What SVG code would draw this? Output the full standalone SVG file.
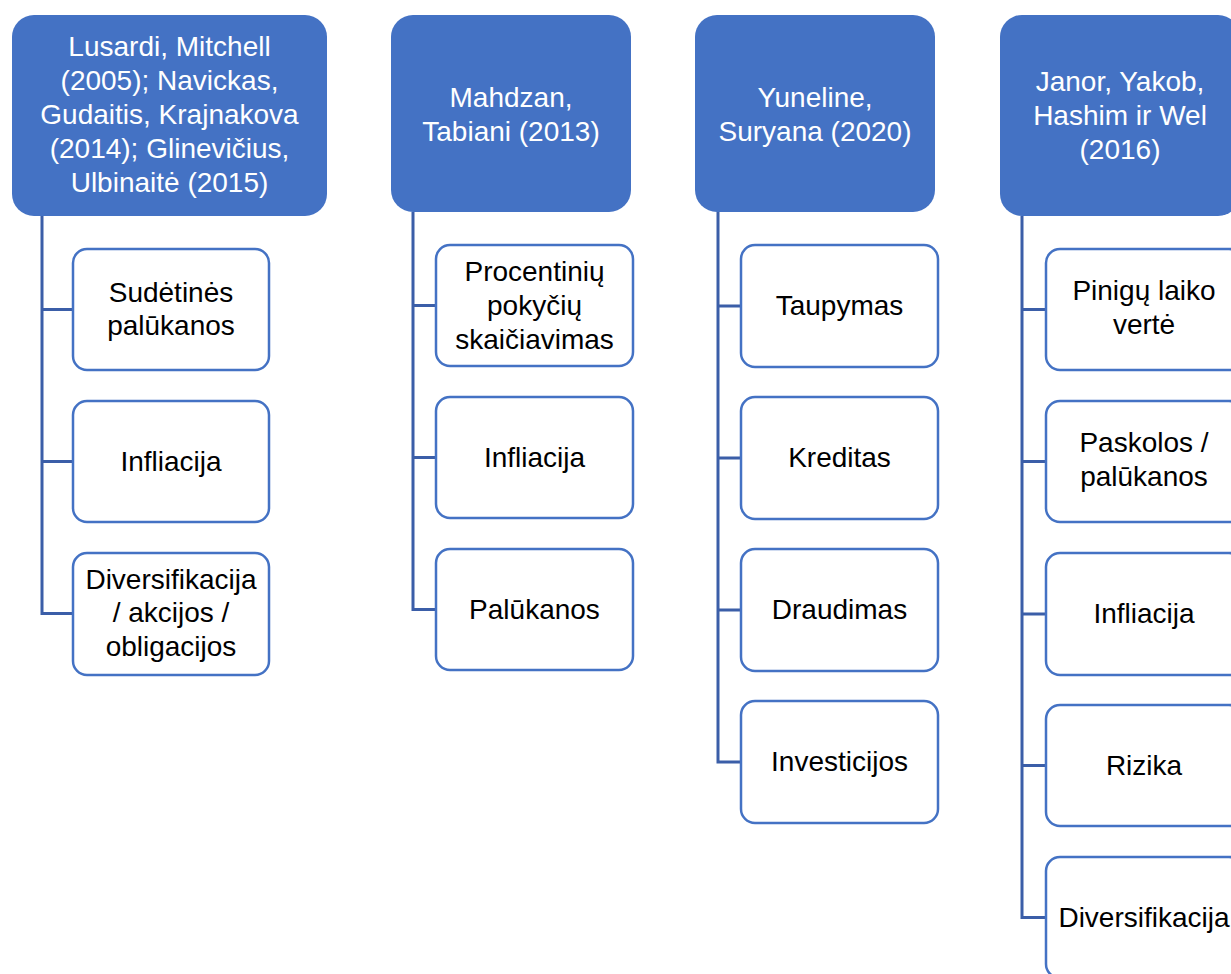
<svg xmlns="http://www.w3.org/2000/svg" width="1231" height="974" viewBox="0 0 1231 974">
<style>
.hdr{fill:#4472C4;}
.box{fill:#FFFFFF;stroke:#4472C4;stroke-width:2.5;}
.ht{font-family:"Liberation Sans",Arial,sans-serif;font-size:28px;fill:#FFFFFF;text-anchor:middle;}
.ct{font-family:"Liberation Sans",Arial,sans-serif;font-size:28px;fill:#000000;text-anchor:middle;}
.con{fill:none;stroke:#3B5EA8;stroke-width:3;}
</style>
<rect width="1231" height="974" fill="#FFFFFF"/>
<g id="connectors">
<path class="con" d="M42,216 V613.5 H73 M42,309.5 H73 M42,461.5 H73"/>
<path class="con" d="M413,212 V609.5 H436 M413,305.5 H436 M413,457.5 H436"/>
<path class="con" d="M718,212 V762 H741 M718,306 H741 M718,458 H741 M718,610 H741"/>
<path class="con" d="M1022,216 V917.5 H1046 M1022,309.5 H1046 M1022,461.5 H1046 M1022,614 H1046 M1022,765.5 H1046"/>
</g>
<g id="h1">
<rect class="hdr" x="12" y="15" width="315" height="201" rx="22"/>
<text class="ht" x="169.5" y="56">Lusardi, Mitchell</text>
<text class="ht" x="169.5" y="90">(2005); Navickas,</text>
<text class="ht" x="169.5" y="124">Gudaitis, Krajnakova</text>
<text class="ht" x="169.5" y="158">(2014); Glinevičius,</text>
<text class="ht" x="169.5" y="192">Ulbinaitė (2015)</text>
</g>
<g id="c1a"><rect class="box" x="73" y="249" width="196" height="121" rx="14"/>
<text class="ct" x="171" y="302">Sudėtinės</text><text class="ct" x="171" y="335">palūkanos</text></g>
<g id="c1b"><rect class="box" x="73" y="401" width="196" height="121" rx="14"/>
<text class="ct" x="171" y="471">Infliacija</text></g>
<g id="c1c"><rect class="box" x="73" y="553" width="196" height="122" rx="14"/>
<text class="ct" x="171" y="589">Diversifikacija</text><text class="ct" x="171" y="622">/ akcijos /</text><text class="ct" x="171" y="656">obligacijos</text></g>

<g id="h2">
<rect class="hdr" x="391" y="15" width="240" height="197" rx="22"/>
<text class="ht" x="511" y="107">Mahdzan,</text>
<text class="ht" x="511" y="141">Tabiani (2013)</text>
</g>
<g id="c2a"><rect class="box" x="436" y="245" width="197" height="121" rx="14"/>
<text class="ct" x="534.5" y="281">Procentinių</text><text class="ct" x="534.5" y="315">pokyčių</text><text class="ct" x="534.5" y="349">skaičiavimas</text></g>
<g id="c2b"><rect class="box" x="436" y="397" width="197" height="121" rx="14"/>
<text class="ct" x="534.5" y="467">Infliacija</text></g>
<g id="c2c"><rect class="box" x="436" y="549" width="197" height="121" rx="14"/>
<text class="ct" x="534.5" y="619">Palūkanos</text></g>

<g id="h3">
<rect class="hdr" x="695" y="15" width="240" height="197" rx="22"/>
<text class="ht" x="815" y="107">Yuneline,</text>
<text class="ht" x="815" y="141">Suryana (2020)</text>
</g>
<g id="c3a"><rect class="box" x="741" y="245" width="197" height="122" rx="14"/>
<text class="ct" x="839.5" y="315">Taupymas</text></g>
<g id="c3b"><rect class="box" x="741" y="397" width="197" height="122" rx="14"/>
<text class="ct" x="839.5" y="467">Kreditas</text></g>
<g id="c3c"><rect class="box" x="741" y="549" width="197" height="122" rx="14"/>
<text class="ct" x="839.5" y="619">Draudimas</text></g>
<g id="c3d"><rect class="box" x="741" y="701" width="197" height="122" rx="14"/>
<text class="ct" x="839.5" y="771">Investicijos</text></g>

<g id="h4">
<rect class="hdr" x="1000" y="15" width="240" height="201" rx="22"/>
<text class="ht" x="1120" y="91">Janor, Yakob,</text>
<text class="ht" x="1120" y="125">Hashim ir Wel</text>
<text class="ht" x="1120" y="159">(2016)</text>
</g>
<g id="c4a"><rect class="box" x="1046" y="249" width="197" height="121" rx="14"/>
<text class="ct" x="1144" y="300">Pinigų laiko</text><text class="ct" x="1144" y="334">vertė</text></g>
<g id="c4b"><rect class="box" x="1046" y="401" width="197" height="121" rx="14"/>
<text class="ct" x="1144" y="452">Paskolos /</text><text class="ct" x="1144" y="486">palūkanos</text></g>
<g id="c4c"><rect class="box" x="1046" y="553" width="197" height="122" rx="14"/>
<text class="ct" x="1144" y="623">Infliacija</text></g>
<g id="c4d"><rect class="box" x="1046" y="705" width="197" height="121" rx="14"/>
<text class="ct" x="1144" y="775">Rizika</text></g>
<g id="c4e"><rect class="box" x="1046" y="857" width="197" height="121" rx="14"/>
<text class="ct" x="1144" y="927">Diversifikacija</text></g>
</svg>
